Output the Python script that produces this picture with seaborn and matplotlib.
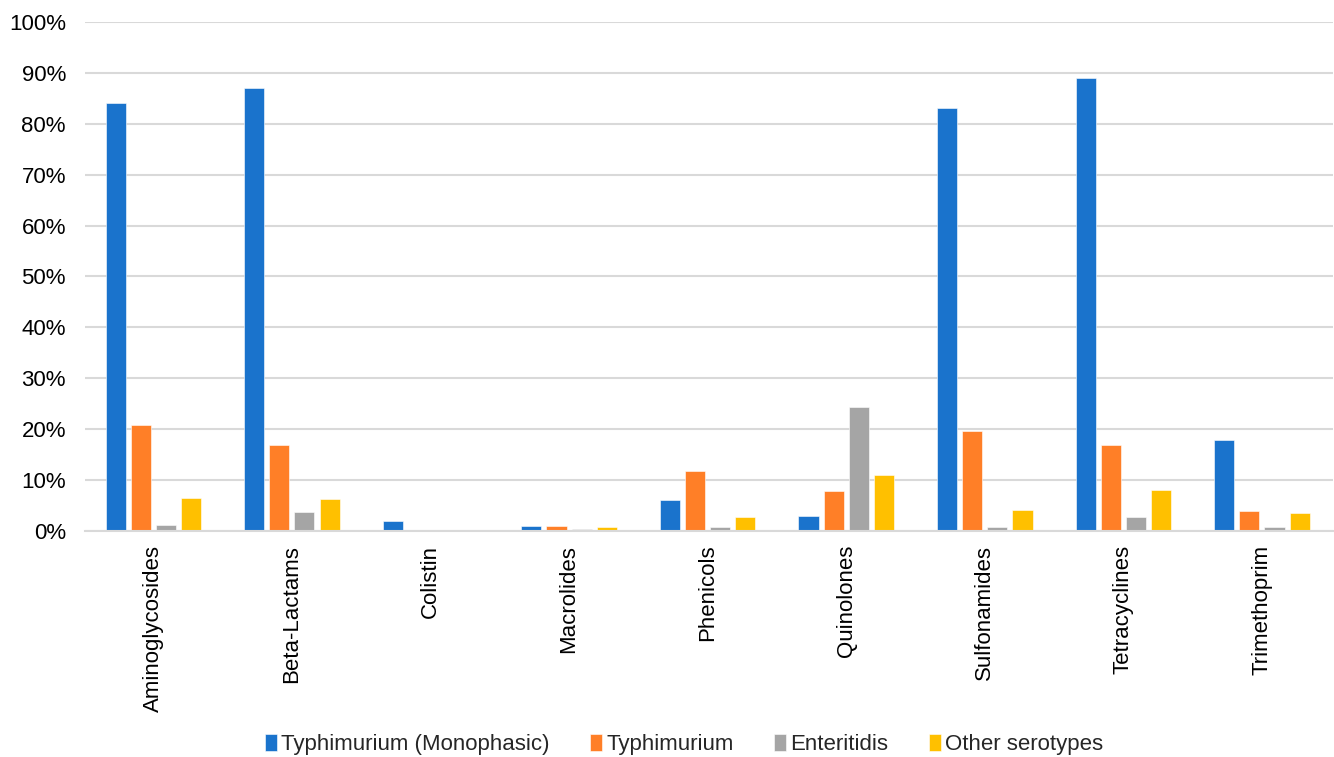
import pandas as pd
import matplotlib.pyplot as plt
import seaborn as sns
from matplotlib.ticker import PercentFormatter

classes = ['Aminoglycosides', 'Beta-Lactams', 'Colistin', 'Macrolides', 'Phenicols',
           'Quinolones', 'Sulfonamides', 'Tetracyclines', 'Trimethoprim']
serotypes = ['Typhimurium (Monophasic)', 'Typhimurium', 'Enteritidis', 'Other serotypes']

monophasic = [84.1, 87.0, 1.9, 1.0, 6.0, 2.9, 83.1, 89.0, 17.8]
typhimurium = [20.8, 16.9, 0.0, 1.0, 11.8, 7.9, 19.7, 16.8, 3.9]
enteritidis = [1.2, 3.7, 0.0, 0.4, 0.8, 24.4, 0.8, 2.75, 0.8]
other = [6.5, 6.2, 0.0, 0.85, 2.7, 11.0, 4.2, 8.05, 3.5]

colors = ['#1A73CC', '#FF7F27', '#A5A5A5', '#FFC000']

# long format for seaborn
df = pd.DataFrame({'class': classes, serotypes[0]: monophasic, serotypes[1]: typhimurium,
                   serotypes[2]: enteritidis, serotypes[3]: other})
df = df.melt(id_vars='class', var_name='serotype', value_name='pct')

sns.set_style('white')
plt.rcParams['font.family'] = ['Liberation Sans', 'DejaVu Sans']

fig = plt.figure(figsize=(13.34, 7.57), dpi=100)
ax = fig.add_axes([0.064, 0.2986, 0.935, 0.6724])

sns.barplot(data=df, x='class', y='pct', hue='serotype', hue_order=serotypes,
            palette=colors, saturation=1, width=0.725, gap=0.2, ax=ax, legend=True,
            edgecolor='white', linewidth=0.4)

ax.set_ylim(0, 100)
ax.set_yticks(range(0, 101, 10))
ax.yaxis.set_major_formatter(PercentFormatter(decimals=0))
ax.grid(axis='y', color='#D9D9D9', linewidth=1.5)
ax.set_axisbelow(True)
for s in ['top', 'right', 'left']:
    ax.spines[s].set_visible(False)
ax.spines['bottom'].set_color('#D9D9D9')
ax.spines['bottom'].set_linewidth(1.5)
ax.tick_params(axis='both', length=0, labelsize=16, colors='black')
ax.tick_params(axis='x', pad=10)
ax.tick_params(axis='y', pad=14)
plt.setp(ax.get_xticklabels(), rotation=90)
ax.set_xlabel('')
ax.set_ylabel('')
ax.set_xlim(-0.49, 8.51)

handles, labels = ax.get_legend_handles_labels()
ax.legend(handles, labels, loc='center', bbox_to_anchor=(0.48, -0.42), ncol=4,
          frameon=False, fontsize=16, handlelength=0.55, handleheight=0.75,
          handletextpad=0.2, columnspacing=1.8)

fig.savefig('out.png', dpi=100)
